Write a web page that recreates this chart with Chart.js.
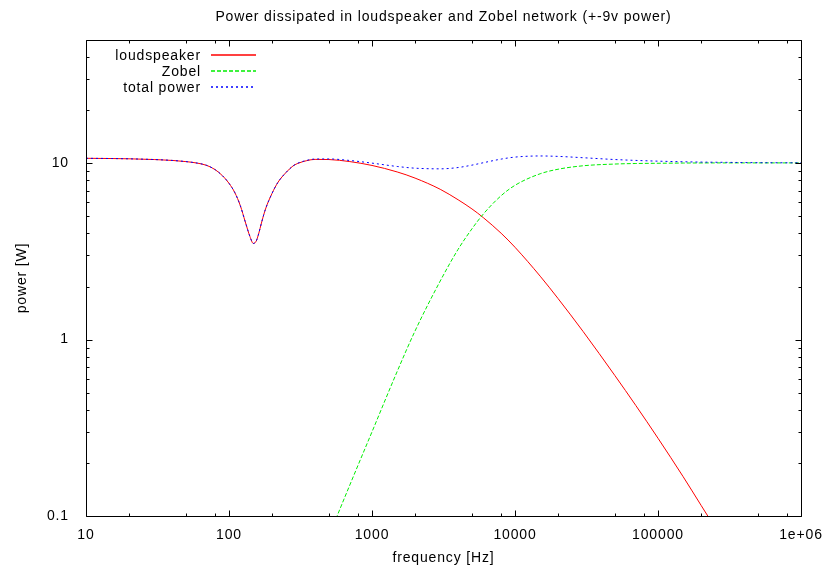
<!DOCTYPE html>
<html>
<head>
<meta charset="utf-8">
<title>Power dissipated in loudspeaker and Zobel network</title>
<script src="https://cdn.jsdelivr.net/npm/chart.js@4.4.1/dist/chart.umd.min.js"></script>
<style>
  html, body { margin: 0; padding: 0; background: #fff; }
</style>
</head>
<body>
<canvas id="powerChart" width="828" height="567"></canvas>
<script>
// frequency [Hz] and power [W]
const freq = [10, 15, 20, 30, 40, 50, 60, 70, 80, 90,
              100, 110, 120, 130, 140, 148, 155, 160, 170, 180,
              200, 220, 250, 280, 300, 350, 400, 500, 700, 1000,
              1500, 2000, 3000, 4000, 5000, 6000, 8000, 10000, 15000, 20000,
              30000, 50000, 70000, 100000, 150000, 200000, 300000, 500000, 1000000];
const loudspeaker = [10.67, 10.64, 10.6, 10.5, 10.38, 10.22, 10.02, 9.72, 9.2, 8.5,
                     7.7, 6.8, 5.75, 4.65, 3.85, 3.51, 3.62, 3.9, 4.7, 5.5,
                     6.75, 7.8, 8.85, 9.65, 9.95, 10.35, 10.52, 10.5, 10.22, 9.72,
                     8.93, 8.24, 7.12, 6.21, 5.51, 4.92, 4.01, 3.34, 2.29, 1.71,
                     1.11, 0.625, 0.423, 0.276, 0.167, 0.115, 0.068, 0.034, 0.0126];
const zobel = [null, null, null, null, null, null, null, null, null, null,
               null, null, null, null, null, null, null, null, null, null,
               null, null, null, null, 0.028, 0.038, 0.049, 0.077, 0.15, 0.3,
               0.66, 1.12, 2.15, 3.25, 4.25, 5.15, 6.55, 7.5, 8.72, 9.25,
               9.68, 9.9, 9.97, 10.0, 10.03, 10.04, 10.05, 10.05, 10.05];
const total = [10.67, 10.64, 10.6, 10.5, 10.38, 10.22, 10.02, 9.72, 9.2, 8.5,
               7.7, 6.8, 5.75, 4.65, 3.85, 3.51, 3.62, 3.9, 4.7, 5.5,
               6.75, 7.8, 8.85, 9.65, 9.98, 10.39, 10.57, 10.58, 10.37, 10.02,
               9.59, 9.38, 9.3, 9.46, 9.76, 10.07, 10.56, 10.84, 11.0, 10.94,
               10.75, 10.5, 10.38, 10.28, 10.2, 10.155, 10.12, 10.08, 10.06];

const xTicks = [10, 100, 1000, 10000, 100000, 1000000];
const xTickLabels = ['10', '100', '1000', '10000', '100000', '1e+06'];
const yTicks = [0.1, 1, 10];
const yTickLabels = ['0.1', '1', '10'];
const xMinor = [2, 5, 8];
const yMinor = [2, 3, 4, 5, 6, 7, 8, 9];

const FONT = '"Liberation Sans", Arial, Helvetica, sans-serif';

function points(values) {
    return freq.map((f, i) => ({ x: f, y: values[i] })).filter(p => p.y !== null);
}

// gnuplot look: box border, inward ticks on all sides, title, axis labels and key
const gnuplotFrame = {
    id: 'gnuplotFrame',
    beforeLayout(chart) { chart.ctx.letterSpacing = '0.85px'; },
    beforeDraw(chart) { chart.ctx.letterSpacing = '0.85px'; },
    afterDraw(chart) {
        const ctx = chart.ctx;
        const a = chart.chartArea;
        const xs = chart.scales.x;
        const ys = chart.scales.y;
        const L = Math.round(a.left) + 0.5, R = Math.round(a.right) + 0.5;
        const T = Math.round(a.top) + 0.5, B = Math.round(a.bottom) + 0.5;

        ctx.save();
        ctx.strokeStyle = '#000';
        ctx.lineWidth = 1;
        ctx.setLineDash([]);
        ctx.beginPath();

        const xTick = (v, len) => {
            const px = Math.round(xs.getPixelForValue(v)) + 0.5;
            ctx.moveTo(px, B); ctx.lineTo(px, B - len);
            ctx.moveTo(px, T); ctx.lineTo(px, T + len);
        };
        const yTick = (v, len) => {
            const py = Math.round(ys.getPixelForValue(v)) + 0.5;
            ctx.moveTo(L, py); ctx.lineTo(L + len, py);
            ctx.moveTo(R, py); ctx.lineTo(R - len, py);
        };
        xTicks.forEach(v => xTick(v, 6));
        xTicks.slice(0, -1).forEach(d => xMinor.forEach(m => xTick(d * m, 3)));
        yTicks.forEach(v => yTick(v, 6));
        yTicks.forEach(d => yMinor.forEach(m => { if (d * m <= ys.max) yTick(d * m, 3); }));

        ctx.rect(L, T, R - L, B - T);
        ctx.stroke();

        ctx.fillStyle = '#000';
        ctx.font = '14px ' + FONT;
        ctx.letterSpacing = '0.85px';
        const cx = (a.left + a.right) / 2;

        ctx.textAlign = 'center';
        ctx.textBaseline = 'alphabetic';
        ctx.fillText('Power dissipated in loudspeaker and Zobel network (+-9v power)', cx, 21);
        ctx.fillText('frequency [Hz]', cx, 562);

        ctx.save();
        ctx.translate(22, (a.top + a.bottom) / 2);
        ctx.rotate(-Math.PI / 2);
        ctx.textBaseline = 'middle';
        ctx.fillText('power [W]', 0, 0);
        ctx.restore();

        // key: label right-aligned, line sample to its right
        ctx.textAlign = 'right';
        chart.data.datasets.forEach((ds, i) => {
            const opts = chart.getDatasetMeta(i).dataset.options;
            const yy = 60 + i * 16;
            ctx.fillStyle = '#000';
            ctx.fillText(ds.label, 201, yy);
            ctx.strokeStyle = opts.borderColor;
            ctx.lineWidth = 1.3;
            ctx.setLineDash(opts.borderDash || []);
            ctx.beginPath();
            ctx.moveTo(211, yy - 5);
            ctx.lineTo(256, yy - 5);
            ctx.stroke();
        });
        ctx.restore();
    }
};

const ctx = document.getElementById('powerChart').getContext('2d');

new Chart(ctx, {
    type: 'line',
    data: {
        datasets: [
            { label: 'loudspeaker', data: points(loudspeaker), borderColor: '#ff0000', order: 3 },
            { label: 'Zobel', data: points(zobel), borderColor: '#00ee00', borderDash: [4, 2], order: 2 },
            { label: 'total power', data: points(total), borderColor: '#0000ff', borderDash: [2, 3], order: 1 }
        ]
    },
    options: {
        responsive: false,
        animation: false,
        devicePixelRatio: 1,
        layout: { padding: { top: 40, right: 27, left: 0, bottom: 0 } },
        plugins: {
            legend: { display: false },
            title: { display: false },
            tooltip: { enabled: false }
        },
        elements: {
            point: { radius: 0 },
            line: { borderWidth: 1, cubicInterpolationMode: 'monotone', fill: false }
        },
        scales: {
            x: {
                type: 'logarithmic',
                min: 10,
                max: 1000000,
                grid: { display: false },
                border: { display: false },
                afterFit: s => { s.height = 51; },
                afterBuildTicks: s => { s.ticks = xTicks.map(v => ({ value: v })); },
                ticks: {
                    autoSkip: false,
                    maxRotation: 0,
                    padding: 3,
                    color: '#000',
                    font: { family: FONT, size: 14 },
                    callback: (v, i) => xTickLabels[i]
                }
            },
            y: {
                type: 'logarithmic',
                min: 0.1,
                max: 50,
                grid: { display: false },
                border: { display: false },
                afterFit: s => { s.width = 86; },
                afterBuildTicks: s => { s.ticks = yTicks.map(v => ({ value: v })); },
                ticks: {
                    autoSkip: false,
                    padding: 9,
                    color: '#000',
                    font: { family: FONT, size: 14 },
                    callback: (v, i) => yTickLabels[i]
                }
            }
        }
    },
    plugins: [gnuplotFrame]
});
</script>
</body>
</html>
